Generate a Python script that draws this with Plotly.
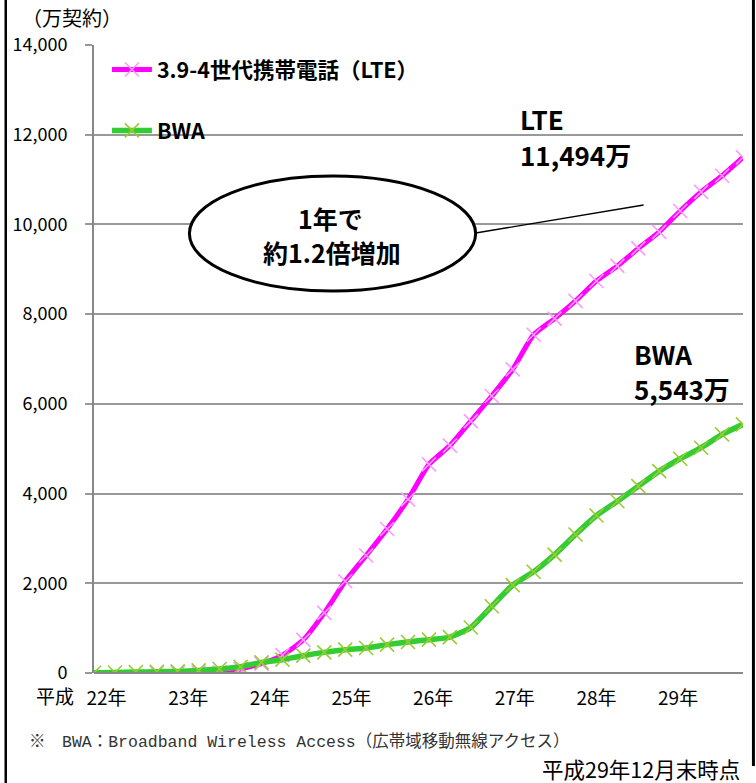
import plotly.graph_objects as go

# ---- data (万契約), quarterly from 平成22年 to 平成29年12月 ----
quarters = [f"H{y}.{m}" for y in range(22, 30) for m in (3, 6, 9, 12)]
lte = [None, None, None, 0, 3, 8, 15, 90, 210, 400, 740, 1340, 2045, 2620, 3210, 3870,
       4650, 5070, 5615, 6175, 6770, 7540, 7900, 8295, 8740, 9075, 9465, 9835, 10300,
       10725, 11085, 11494]
bwa = [5, 10, 20, 27, 36, 58, 89, 140, 237, 297, 386, 460, 520, 558, 632, 692, 743, 800,
       1015, 1487, 1960, 2257, 2640, 3087, 3511, 3830, 4165, 4500, 4776, 5022, 5319, 5543]
year_labels = ["22年", "23年", "24年", "25年", "26年", "27年", "28年", "29年"]
year_label_pos = [0.6, 4.5, 8.4, 12.3, 16.2, 20.1, 24.0, 27.9]
y_ticks = [0, 2000, 4000, 6000, 8000, 10000, 12000, 14000]

W, H = 756, 783
ML, MR, MT, MB = 90, 13, 45, 110
PW, PH = W - ML - MR, H - MT - MB
FONT = "Noto Sans CJK JP"


def px(X):
    return (X - ML) / PW


def py(Y):
    return (H - MB - Y) / PH


xs = list(range(len(quarters)))

fig = go.Figure()
fig.add_trace(go.Scatter(
    x=xs, y=lte, name="3.9-4世代携帯電話（LTE）", mode="lines+markers",
    line=dict(color="#FF00FF", width=5, shape="spline", smoothing=0.6),
    marker=dict(symbol="x-thin", size=14, line=dict(color="#FF99FF", width=1.6)),
    legendgroup="a", connectgaps=False))
fig.add_trace(go.Scatter(
    x=xs, y=bwa, name="BWA", mode="lines+markers",
    line=dict(color="#33CC33", width=5.5, shape="spline", smoothing=0.6),
    marker=dict(symbol="x-thin", size=14, line=dict(color="#99CC33", width=1.6)),
    legendgroup="b"))

fig.update_layout(
    width=W, height=H,
    margin=dict(l=ML, r=MR, t=MT, b=MB, pad=0),
    paper_bgcolor="white", plot_bgcolor="white",
    font=dict(family=FONT, color="black"),
    showlegend=True,
    legend=dict(x=px(103), y=py(49), xanchor="left", yanchor="top",
                bgcolor="rgba(0,0,0,0)", itemwidth=40, tracegroupgap=30,
                font=dict(size=21.5, family=FONT, weight="bold", color="black")),
    xaxis=dict(range=[0, len(quarters) - 1], showgrid=False, zeroline=False,
               showline=False, tickvals=year_label_pos, ticktext=year_labels,
               ticks="", ticklabelstandoff=12,
               tickfont=dict(size=19, family=FONT, color="black")),
    yaxis=dict(range=[0, 14000], tickvals=y_ticks, tickformat=",",
               showgrid=True, gridcolor="#999999", gridwidth=2,
               zeroline=False, showline=True, linecolor="#888888", linewidth=2,
               ticks="outside", ticklen=7, tickcolor="#999999", tickwidth=2,
               ticklabelstandoff=14,
               tickfont=dict(size=18, family=FONT, color="black")),
)

shapes = [
    # bottom axis line
    dict(type="line", xref="paper", yref="paper", x0=0, x1=1, y0=0, y1=0,
         line=dict(color="#888888", width=2), layer="above"),
    # connector line from ellipse
    dict(type="line", xref="paper", yref="paper", x0=px(474), y0=py(233),
         x1=px(643), y1=py(205), line=dict(color="black", width=1.3), layer="above"),
    # ellipse
    dict(type="circle", xref="paper", yref="paper", x0=px(186), x1=px(474),
         y0=py(291), y1=py(176), line=dict(color="black", width=3),
         fillcolor="white", layer="above"),
    # frame lines
    dict(type="line", xref="paper", yref="paper", x0=px(1.2), x1=px(1.2),
         y0=py(0), y1=py(783), line=dict(color="black", width=2.5)),
    dict(type="line", xref="paper", yref="paper", x0=px(753.5), x1=px(753.5),
         y0=py(0), y1=py(766), line=dict(color="black", width=3)),
]
fig.update_layout(shapes=shapes)


def ann(text, X, Y, size, xanchor="center", bold=False, family=FONT, color="black"):
    fig.add_annotation(text=text, xref="paper", yref="paper", x=px(X), y=py(Y),
                       xanchor=xanchor, yanchor="middle", showarrow=False,
                       font=dict(size=size, family=family, color=color,
                                 weight="bold" if bold else "normal"))


ann("（万契約）", 68, 17, 20)
ann("平成", 51, 695, 19)
ann("LTE", 517, 119, 26, xanchor="left", bold=True)
ann(f"{lte[-1]:,}万", 517, 154, 26, xanchor="left", bold=True)
ann("BWA", 631, 354, 26, xanchor="left", bold=True)
ann(f"{bwa[-1]:,}万", 631, 388, 26, xanchor="left", bold=True)
ann("1年で", 328, 218, 25, bold=True)
ann("約1.2倍増加", 329, 252, 25, bold=True)
ann("※　BWA：Broadband Wireless Access（広帯域移動無線アクセス）", 23, 742, 16.5,
    xanchor="left", family="Liberation Mono, Noto Sans CJK JP", color="#333333")
ann("平成29年12月末時点", 742, 768, 21.5, xanchor="right")

fig.write_html("out.html", config={"displayModeBar": False},
               post_script="document.body.style.margin='0';"
                           "document.body.style.overflow='hidden';")
